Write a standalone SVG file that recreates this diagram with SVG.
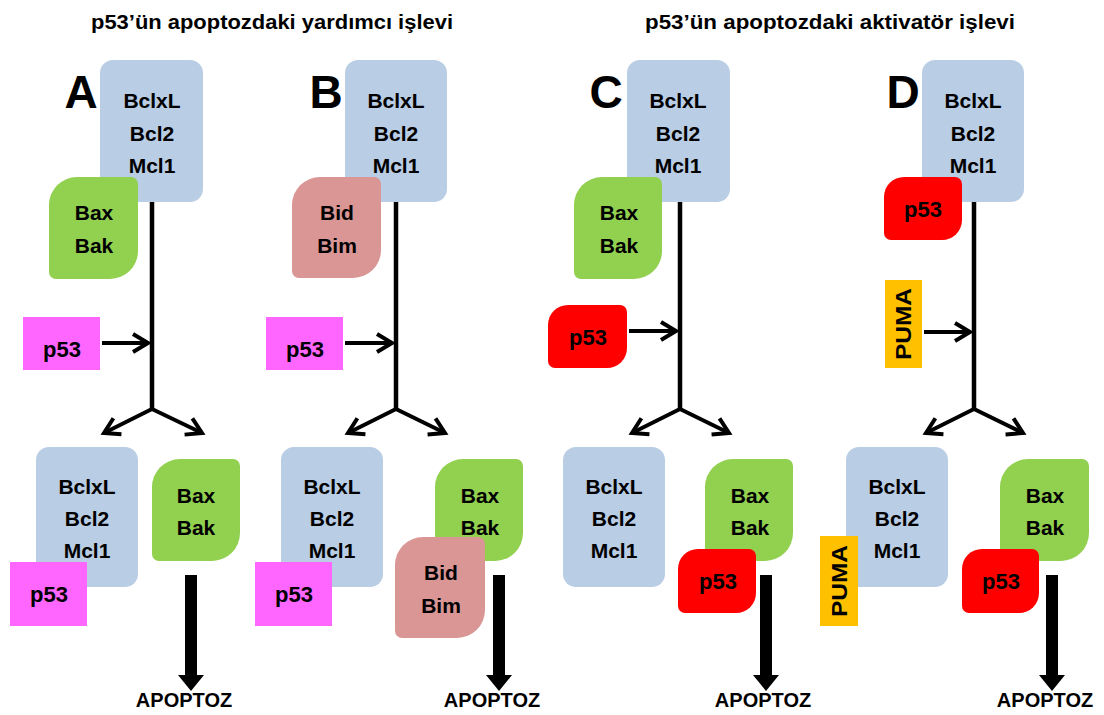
<svg xmlns="http://www.w3.org/2000/svg" width="1104" height="715" viewBox="0 0 1104 715">
<style>
text{font-family:"Liberation Sans",Arial,sans-serif;font-weight:bold;fill:#000;text-anchor:middle}
.t{font-size:21px}
.p{font-size:22px}
.title{font-size:20px}
.big{font-size:46px}
.ap{font-size:20px}
.blue{fill:#b9cde5}
.green{fill:#92d050}
.pink{fill:#da9694}
.mag{fill:#ff66ff}
.red{fill:#ff0000}
.yel{fill:#ffc000}
.ln{stroke:#000;stroke-width:4.5;fill:none}
.arr{stroke:#000;stroke-width:4;fill:none;marker-end:url(#open)}
</style>
<defs>
<marker id="open" viewBox="-18 -12 20 24" markerWidth="20" markerHeight="24" refX="0" refY="0" markerUnits="userSpaceOnUse" orient="auto" overflow="visible">
<path d="M-15,-9 L0,0 L-15,9" fill="none" stroke="#000" stroke-width="4" stroke-linejoin="miter"/>
</marker>
</defs>
<rect width="1104" height="715" fill="#fff"/>

<g id="titles">
<text class="title" x="272" y="29" textLength="362" lengthAdjust="spacingAndGlyphs">p53’ün apoptozdaki yardımcı işlevi</text>
<text class="title" x="830" y="29" textLength="370" lengthAdjust="spacingAndGlyphs">p53’ün apoptozdaki aktivatör işlevi</text>
</g>

<g id="labels">
<text class="big" x="81" y="108">A</text>
<text class="big" x="326" y="108">B</text>
<text class="big" x="606" y="108">C</text>
<text class="big" x="903" y="108">D</text>
</g>

<g id="connectors">
<path class="ln" d="M152 202 V409"/>
<line class="arr" x1="102" y1="343" x2="148" y2="343"/>
<line class="arr" x1="152" y1="409" x2="104" y2="433"/>
<line class="arr" x1="152" y1="409" x2="202" y2="433"/>
<path class="ln" d="M396 202 V409"/>
<line class="arr" x1="345" y1="343" x2="392" y2="343"/>
<line class="arr" x1="396" y1="409" x2="348" y2="433"/>
<line class="arr" x1="396" y1="409" x2="445" y2="433"/>
<path class="ln" d="M680 202 V409"/>
<line class="arr" x1="629" y1="331" x2="676" y2="331"/>
<line class="arr" x1="680" y1="409" x2="632" y2="433"/>
<line class="arr" x1="680" y1="409" x2="729" y2="433"/>
<path class="ln" d="M974 202 V409"/>
<line class="arr" x1="924" y1="332" x2="970" y2="332"/>
<line class="arr" x1="974" y1="409" x2="926" y2="433"/>
<line class="arr" x1="974" y1="409" x2="1023" y2="433"/>
<path d="M185 575 H197 V675 H204 L191 691 L178 675 H185 Z" fill="#000"/>
<path d="M493 575 H505 V675 H512 L499 691 L486 675 H493 Z" fill="#000"/>
<path d="M760 575 H772 V675 H779 L766 691 L753 675 H760 Z" fill="#000"/>
<path d="M1046 575 H1058 V675 H1065 L1052 691 L1039 675 H1046 Z" fill="#000"/>
</g>

<g id="A-top-bcl">
<rect class="blue" x="100" y="60" width="103" height="142" rx="13"/>
<text class="t" x="152" y="108">BclxL</text><text class="t" x="152" y="141">Bcl2</text><text class="t" x="152" y="173">Mcl1</text>
</g>
<g id="A-top-baxbak">
<path class="green" d="M77 177 H131 A7 7 0 0 1 138 184 V251 A28 28 0 0 1 110 279 H56 A7 7 0 0 1 49 272 V205 A28 28 0 0 1 77 177Z"/>
<text class="t" x="94" y="220">Bax</text><text class="t" x="94" y="253">Bak</text>
</g>
<g id="A-p53">
<rect class="mag" x="23" y="317" width="77" height="53"/>
<text class="p" x="62" y="357">p53</text>
</g>
<g id="A-bot-bcl">
<rect class="blue" x="36" y="447" width="102" height="140" rx="13"/>
<text class="t" x="87" y="494">BclxL</text><text class="t" x="87" y="526">Bcl2</text><text class="t" x="87" y="558">Mcl1</text>
</g>
<g id="A-bot-p53">
<rect class="mag" x="10" y="562" width="77" height="64"/>
<text class="p" x="49" y="602">p53</text>
</g>
<g id="A-bot-baxbak">
<path class="green" d="M180 459 H233 A7 7 0 0 1 240 466 V533 A28 28 0 0 1 212 561 H159 A7 7 0 0 1 152 554 V487 A28 28 0 0 1 180 459Z"/>
<text class="t" x="196" y="503">Bax</text><text class="t" x="196" y="535">Bak</text>
</g>
<g id="A-apoptoz"><text class="ap" x="184" y="707">APOPTOZ</text></g>

<g id="B-top-bcl">
<rect class="blue" x="345" y="60" width="102" height="142" rx="13"/>
<text class="t" x="396" y="108">BclxL</text><text class="t" x="396" y="141">Bcl2</text><text class="t" x="396" y="173">Mcl1</text>
</g>
<g id="B-top-bidbim">
<path class="pink" d="M320 177 H374 A7 7 0 0 1 381 184 V250 A28 28 0 0 1 353 278 H299 A7 7 0 0 1 292 271 V205 A28 28 0 0 1 320 177Z"/>
<text class="t" x="337" y="220">Bid</text><text class="t" x="337" y="253">Bim</text>
</g>
<g id="B-p53">
<rect class="mag" x="266" y="317" width="77" height="53"/>
<text class="p" x="305" y="357">p53</text>
</g>
<g id="B-bot-bcl">
<rect class="blue" x="281" y="447" width="102" height="140" rx="13"/>
<text class="t" x="332" y="494">BclxL</text><text class="t" x="332" y="526">Bcl2</text><text class="t" x="332" y="558">Mcl1</text>
</g>
<g id="B-bot-p53">
<rect class="mag" x="255" y="562" width="77" height="64"/>
<text class="p" x="294" y="602">p53</text>
</g>
<g id="B-bot-baxbak">
<path class="green" d="M463 459 H516 A7 7 0 0 1 523 466 V533 A28 28 0 0 1 495 561 H442 A7 7 0 0 1 435 554 V487 A28 28 0 0 1 463 459Z"/>
<text class="t" x="480" y="503">Bax</text><text class="t" x="480" y="535">Bak</text>
</g>
<g id="B-bot-bidbim">
<path class="pink" d="M423 537 H478 A7 7 0 0 1 485 544 V610 A28 28 0 0 1 457 638 H402 A7 7 0 0 1 395 631 V565 A28 28 0 0 1 423 537Z"/>
<text class="t" x="441" y="580">Bid</text><text class="t" x="441" y="613">Bim</text>
</g>
<g id="B-apoptoz"><text class="ap" x="492" y="707">APOPTOZ</text></g>

<g id="C-top-bcl">
<rect class="blue" x="627" y="60" width="103" height="142" rx="13"/>
<text class="t" x="678" y="108">BclxL</text><text class="t" x="678" y="141">Bcl2</text><text class="t" x="678" y="173">Mcl1</text>
</g>
<g id="C-top-baxbak">
<path class="green" d="M602 177 H655 A7 7 0 0 1 662 184 V251 A28 28 0 0 1 634 279 H581 A7 7 0 0 1 574 272 V205 A28 28 0 0 1 602 177Z"/>
<text class="t" x="619" y="220">Bax</text><text class="t" x="619" y="253">Bak</text>
</g>
<g id="C-p53">
<path class="red" d="M568 305 H620 A7 7 0 0 1 627 312 V348 A20 20 0 0 1 607 368 H555 A7 7 0 0 1 548 361 V325 A20 20 0 0 1 568 305Z"/>
<text class="p" x="588" y="345">p53</text>
</g>
<g id="C-bot-bcl">
<rect class="blue" x="563" y="447" width="102" height="140" rx="13"/>
<text class="t" x="614" y="494">BclxL</text><text class="t" x="614" y="526">Bcl2</text><text class="t" x="614" y="558">Mcl1</text>
</g>
<g id="C-bot-baxbak">
<path class="green" d="M733 459 H786 A7 7 0 0 1 793 466 V533 A28 28 0 0 1 765 561 H712 A7 7 0 0 1 705 554 V487 A28 28 0 0 1 733 459Z"/>
<text class="t" x="750" y="503">Bax</text><text class="t" x="750" y="535">Bak</text>
</g>
<g id="C-bot-p53">
<path class="red" d="M698 549 H749 A7 7 0 0 1 756 556 V593 A20 20 0 0 1 736 613 H685 A7 7 0 0 1 678 606 V569 A20 20 0 0 1 698 549Z"/>
<text class="p" x="718" y="589">p53</text>
</g>
<g id="C-apoptoz"><text class="ap" x="763" y="707">APOPTOZ</text></g>

<g id="D-top-bcl">
<rect class="blue" x="922" y="60" width="102" height="142" rx="13"/>
<text class="t" x="973" y="108">BclxL</text><text class="t" x="973" y="141">Bcl2</text><text class="t" x="973" y="173">Mcl1</text>
</g>
<g id="D-top-p53">
<path class="red" d="M904 177 H955 A7 7 0 0 1 962 184 V220 A20 20 0 0 1 942 240 H891 A7 7 0 0 1 884 233 V197 A20 20 0 0 1 904 177Z"/>
<text class="p" x="923" y="217">p53</text>
</g>
<g id="D-puma">
<rect class="yel" x="885" y="280" width="37" height="88"/>
<text class="p" transform="translate(911 324) rotate(-90)" x="0" y="0" textLength="72" lengthAdjust="spacingAndGlyphs">PUMA</text>
</g>
<g id="D-bot-bcl">
<rect class="blue" x="846" y="447" width="102" height="140" rx="13"/>
<text class="t" x="897" y="494">BclxL</text><text class="t" x="897" y="526">Bcl2</text><text class="t" x="897" y="558">Mcl1</text>
</g>
<g id="D-bot-puma">
<rect class="yel" x="820" y="536" width="38" height="90"/>
<text class="p" transform="translate(847 581) rotate(-90)" x="0" y="0" textLength="72" lengthAdjust="spacingAndGlyphs">PUMA</text>
</g>
<g id="D-bot-baxbak">
<path class="green" d="M1028 459 H1082 A7 7 0 0 1 1089 466 V533 A28 28 0 0 1 1061 561 H1007 A7 7 0 0 1 1000 554 V487 A28 28 0 0 1 1028 459Z"/>
<text class="t" x="1045" y="503">Bax</text><text class="t" x="1045" y="535">Bak</text>
</g>
<g id="D-bot-p53">
<path class="red" d="M982 549 H1032 A7 7 0 0 1 1039 556 V593 A20 20 0 0 1 1019 613 H969 A7 7 0 0 1 962 606 V569 A20 20 0 0 1 982 549Z"/>
<text class="p" x="1001" y="589">p53</text>
</g>
<g id="D-apoptoz"><text class="ap" x="1045" y="707">APOPTOZ</text></g>
</svg>
